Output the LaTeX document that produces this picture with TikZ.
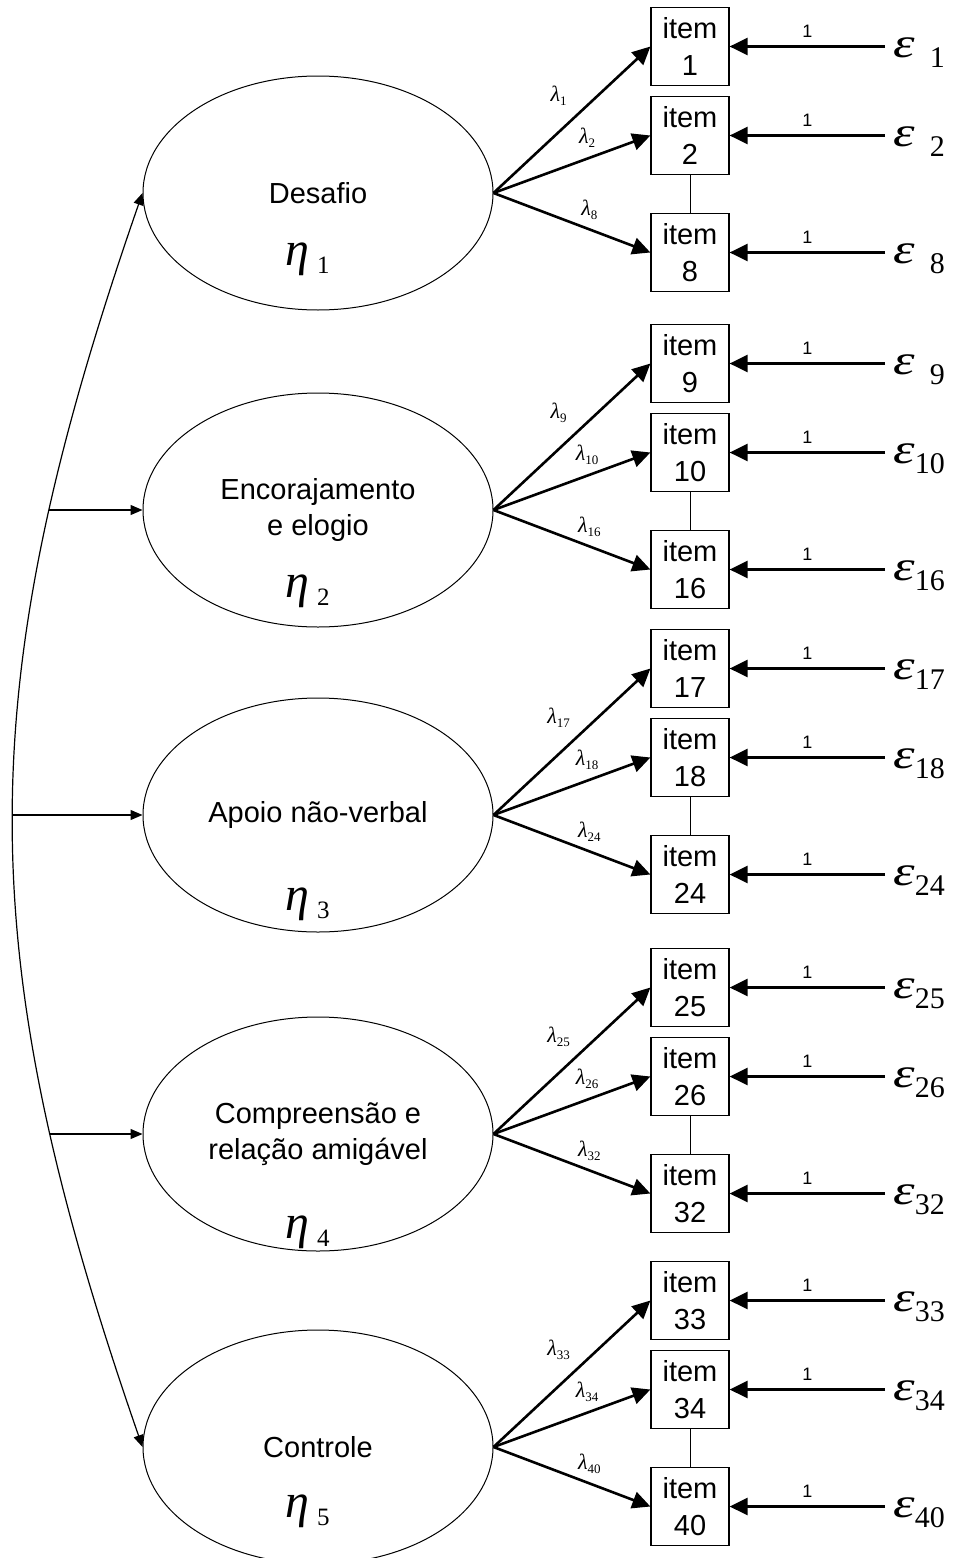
\documentclass[tikz,border=0pt]{standalone}
\usepackage{fontspec}
\setmainfont{Liberation Sans}
\newfontfamily\grk{Liberation Serif}
\usetikzlibrary{arrows.meta,shapes.geometric}

\begin{document}
\begin{tikzpicture}[x=0.5pt,y=-0.5pt,
    latent/.style={draw,line width=0.5pt,ellipse,minimum width=175pt,minimum height=117pt,
      inner sep=0pt,align=center,font=\fontsize{14.5}{18}\selectfont},
    item/.style={draw,line width=0.6pt,minimum size=39pt,inner sep=0pt,align=center,
      font=\fontsize{14.5}{18.5}\selectfont},
    load/.style={line width=1.3pt,-{Triangle[length=9pt,width=8.5pt]}},
    corr/.style={line width=0.6pt,-{Triangle[length=6pt,width=5pt]}},
    etalab/.style={anchor=base west,inner sep=0pt},
    errlab/.style={anchor=base west,inner xsep=4pt,inner ysep=0pt},
    lamlab/.style={inner sep=0pt},
    onelab/.style={inner sep=1pt,font=\fontsize{9}{10}\selectfont}]
    \useasboundingbox (0,0) rectangle (955,1558);

    % latent factors
    \node[latent] (lat1) at (318,193) {Desafio};
    \node[latent] (lat2) at (318,510) {Encorajamento\\e elogio};
    \node[latent] (lat3) at (318,815) {Apoio não-verbal};
    \node[latent] (lat4) at (318,1134) {Compreensão e\\relação amigável};
    \node[latent] (lat5) at (318,1447) {Controle};
    \foreach \g/\y in {1/265,2/597,3/910,4/1238,5/1517} {
      \node[etalab] (eta\g) at (285,\y) {{\grk\itshape\fontsize{24}{24}\selectfont η}\hspace{4pt}\raisebox{-4pt}{\grk\fontsize{12.5}{12.5}\selectfont \g}};
    }

    % correlations between factors
    \draw[corr,{Triangle[length=6pt,width=5pt]}-{Triangle[length=6pt,width=5pt]}] (lat1.west) .. controls (-30,690) and (-30,950) .. (lat5.west)
      coordinate[pos=.235] (k2) coordinate[pos=.493] (k3) coordinate[pos=.768] (k4);
    \foreach \g in {2,3,4} {
      \draw[corr] (k\g |- lat\g.west) -- (lat\g.west);
    }

    % items, loadings and errors
    \foreach \g/\yc/\na/\nb/\nc in {1/193/1/2/8,2/510/9/10/16,3/815/17/18/24,4/1134/25/26/32,5/1447/33/34/40} {
      \foreach \n/\dy/\p/\lx/\ly in {\na/-146.5/.53/-9/10,\nb/-57.5/.64/-3.4/9.2,\nc/59.5/.57/3.2/8.6} {
        \node[item] (it\n) at (690,{\yc+(\dy)}) {item\\\n};
        \node[errlab] (e\n) at (885,{\yc+(\dy)+11}) {\scalebox{1.3}[1]{\grk\itshape\fontsize{21}{21}\selectfont ε}\raisebox{-5pt}{\makebox[15pt][r]{\grk\fontsize{15}{15}\selectfont \n}}};
        \draw[load] (e\n.west |- it\n.east) -- (it\n.east) node[onelab,midway,above=3pt] (u\n) {1};
        \draw[load] (lat\g.east) -- (it\n.west)
          node[lamlab,pos=\p,xshift=\lx pt,yshift=\ly pt] (l\n) {{\grk\itshape\fontsize{11}{11}\selectfont λ}\raisebox{-2pt}{\grk\fontsize{6.5}{6.5}\selectfont \n}};
      }
      \draw[line width=0.5pt] (it\nb) -- (it\nc);
    }
\end{tikzpicture}
\end{document}
